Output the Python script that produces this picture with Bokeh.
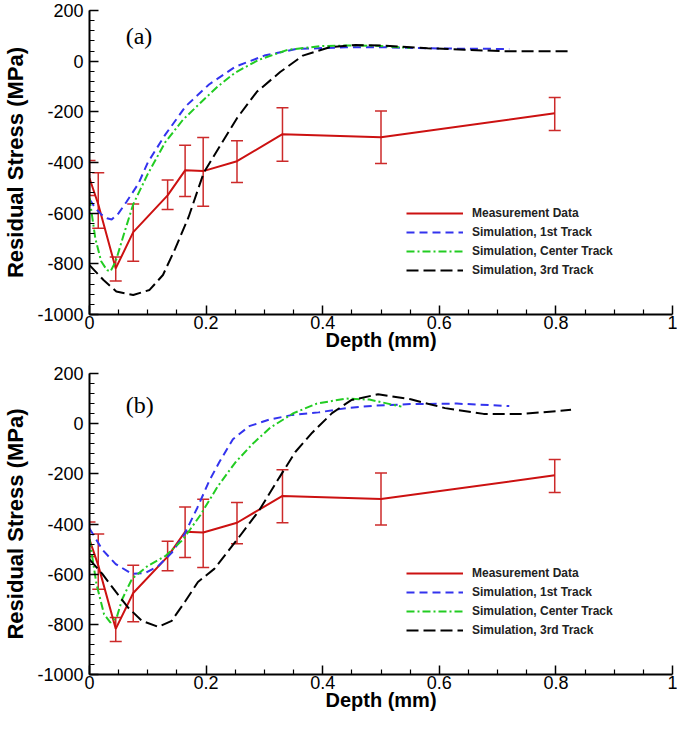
from bokeh.plotting import figure
from bokeh.models import (ColumnDataSource, Whisker, TeeHead, Legend, LegendItem, Label,
                          Range1d, FixedTicker, CustomJSTickFormatter)
from bokeh.layouts import column
from bokeh.embed import file_html
from bokeh.resources import INLINE

# ---- measurement data (same in both panels) ----
depth_meas = [0.0, 0.015, 0.045, 0.075, 0.134, 0.164, 0.195, 0.253, 0.331, 0.500, 0.798]
stress_meas = [-462, -565, -818, -675, -530, -431, -434, -395, -288, -300, -206]
stress_upper = [-392, -440, -773, -564, -469, -332, -301, -314, -184, -197, -143]
stress_lower = [-530, -660, -868, -790, -586, -534, -573, -479, -395, -404, -274]

# ---- panel (a) simulations ----
a_first_x = [0, 0.01, 0.02, 0.03, 0.038, 0.05, 0.063, 0.084, 0.1, 0.13, 0.165, 0.205, 0.25, 0.3, 0.355, 0.44, 0.5, 0.6, 0.72]
a_first_y = [-545, -580, -605, -620, -625, -600, -557, -483, -400, -290, -178, -92, -22, 22, 48, 55, 55, 50, 48]
a_center_x = [0, 0.01, 0.02, 0.03, 0.036, 0.045, 0.058, 0.075, 0.1, 0.13, 0.16, 0.19, 0.22, 0.25, 0.29, 0.34, 0.4, 0.45, 0.5, 0.55]
a_center_y = [-540, -700, -790, -825, -830, -790, -690, -565, -445, -320, -232, -165, -100, -45, 5, 45, 60, 62, 60, 52]
a_third_x = [0, 0.024, 0.046, 0.075, 0.103, 0.126, 0.147, 0.17, 0.196, 0.225, 0.253, 0.287, 0.327, 0.366, 0.412, 0.457, 0.508, 0.58, 0.643, 0.72, 0.825]
a_third_y = [-805, -864, -909, -923, -903, -844, -740, -615, -440, -330, -225, -121, -43, 22, 55, 64, 61, 51, 45, 39, 39]

# ---- panel (b) simulations ----
b_first_x = [0, 0.022, 0.045, 0.073, 0.096, 0.118, 0.141, 0.163, 0.185, 0.206, 0.223, 0.246, 0.274, 0.308, 0.348, 0.393, 0.44, 0.49, 0.55, 0.63, 0.72]
b_first_y = [-418, -502, -560, -599, -595, -567, -515, -440, -335, -225, -152, -62, -10, 16, 35, 45, 62, 72, 78, 80, 70]
b_center_x = [0, 0.012, 0.025, 0.036, 0.047, 0.056, 0.073, 0.1, 0.13, 0.16, 0.19, 0.22, 0.25, 0.28, 0.31, 0.35, 0.39, 0.44, 0.48, 0.535]
b_center_y = [-460, -640, -760, -793, -770, -700, -618, -567, -528, -463, -365, -250, -155, -80, -16, 42, 80, 100, 96, 68]
b_third_x = [0, 0.022, 0.045, 0.067, 0.09, 0.118, 0.141, 0.164, 0.186, 0.214, 0.254, 0.291, 0.325, 0.353, 0.382, 0.416, 0.449, 0.495, 0.551, 0.61, 0.676, 0.744, 0.826]
b_third_y = [-541, -599, -670, -735, -786, -810, -786, -709, -631, -579, -460, -346, -217, -113, -36, 42, 94, 117, 97, 62, 39, 39, 55]

x_ticks = [0, 0.2, 0.4, 0.6, 0.8, 1]
x_minor = [0.05, 0.1, 0.15, 0.25, 0.3, 0.35, 0.45, 0.5, 0.55, 0.65, 0.7, 0.75, 0.85, 0.9, 0.95]
y_ticks = [-1000, -800, -600, -400, -200, 0, 200]
y_minor = [v for v in range(-1000, 201, 40)]

legend_labels = ["Measurement Data", "Simulation, 1st Track", "Simulation, Center Track", "Simulation, 3rd Track"]

RED = "#cc1111"
BAR = "#cc2a2a"
BLUE = "#3333ee"
GREEN = "#22cc22"
BLACK = "#000000"
FONT = "Liberation Sans"

W = 677
BL, BR = 84, 5


def panel(tag, tag_y, fx, fy, cx, cy, tx, ty, height, btop, bbot):
    p = figure(width=W, height=height, output_backend="svg", toolbar_location=None,
               x_range=Range1d(0, 1), y_range=Range1d(-1000, 200),
               min_border_left=BL, min_border_right=BR, min_border_top=btop, min_border_bottom=bbot)
    p.outline_line_color = None
    p.grid.visible = False
    p.background_fill_color = "white"

    fmt = CustomJSTickFormatter(code="return String(tick);")
    p.xaxis.ticker = FixedTicker(ticks=x_ticks, minor_ticks=x_minor)
    p.yaxis.ticker = FixedTicker(ticks=y_ticks, minor_ticks=y_minor)
    p.xaxis.formatter = fmt
    p.yaxis.formatter = fmt
    for ax in (p.xaxis, p.yaxis):
        ax.axis_line_width = 2
        ax.axis_line_color = "black"
        ax.major_tick_in = 9
        ax.major_tick_out = 0
        ax.minor_tick_in = 5
        ax.minor_tick_out = 0
        ax.major_tick_line_width = 1.5
        ax.minor_tick_line_width = 1.2
        ax.major_label_text_font = FONT
        ax.major_label_text_font_size = "18px"
        ax.major_label_text_color = "black"
        ax.axis_label_text_font = FONT
        ax.axis_label_text_font_style = "bold"
        ax.axis_label_text_color = "black"
    p.xaxis.axis_label = "Depth (mm)"
    p.yaxis.axis_label = "Residual Stress (MPa)"
    p.xaxis.axis_label_text_font_size = "20px"
    p.yaxis.axis_label_text_font_size = "22px"
    p.xaxis.major_label_standoff = 1
    p.xaxis.axis_label_standoff = -3
    p.yaxis.major_label_standoff = 6
    p.yaxis.axis_label_standoff = 6

    src = ColumnDataSource(dict(x=depth_meas, y=stress_meas, upper=stress_upper, lower=stress_lower))
    r_meas = p.line("x", "y", source=src, line_color=RED, line_width=2)
    wh = Whisker(base="x", upper="upper", lower="lower", source=src, line_color=BAR, line_width=1.5,
                 upper_head=TeeHead(size=12, line_color=BAR, line_width=1.5),
                 lower_head=TeeHead(size=12, line_color=BAR, line_width=1.5))
    p.add_layout(wh)

    r_first = p.line(fx, fy, line_color=BLUE, line_width=2, line_dash="8 5")
    r_center = p.line(cx, cy, line_color=GREEN, line_width=2, line_dash="8 3 2 3")
    r_third = p.line(tx, ty, line_color=BLACK, line_width=2, line_dash="12 5")

    fw = W - BL - BR
    fh = height - btop - bbot
    leg = Legend(items=[LegendItem(label=legend_labels[0], renderers=[r_meas]),
                        LegendItem(label=legend_labels[1], renderers=[r_first]),
                        LegendItem(label=legend_labels[2], renderers=[r_center]),
                        LegendItem(label=legend_labels[3], renderers=[r_third])],
                 location=(int(0.54 * fw), int(0.118 * fh)))
    leg.label_text_font = FONT
    leg.label_text_font_size = "12px"
    leg.label_text_font_style = "bold"
    leg.label_text_color = "#222222"
    leg.glyph_width = 57
    leg.glyph_height = 18
    leg.label_height = 18
    leg.spacing = 1
    leg.padding = 0
    leg.margin = 0
    leg.label_standoff = 9
    leg.border_line_alpha = 0
    leg.background_fill_alpha = 0
    p.add_layout(leg, "center")

    p.add_layout(Label(x=0.062, y=tag_y, text=tag, text_font="Liberation Serif",
                       text_font_size="24px", text_baseline="middle", text_color="black"))
    return p


pa = panel("(a)", 100, a_first_x, a_first_y, a_center_x, a_center_y, a_third_x, a_third_y, 358, 10, 44)
pb = panel("(b)", 75, b_first_x, b_first_y, b_center_x, b_center_y, b_third_x, b_third_y, 360, 15, 44)

layout = column(pa, pb, spacing=0)
open("out.html", "w").write(file_html(layout, INLINE))
